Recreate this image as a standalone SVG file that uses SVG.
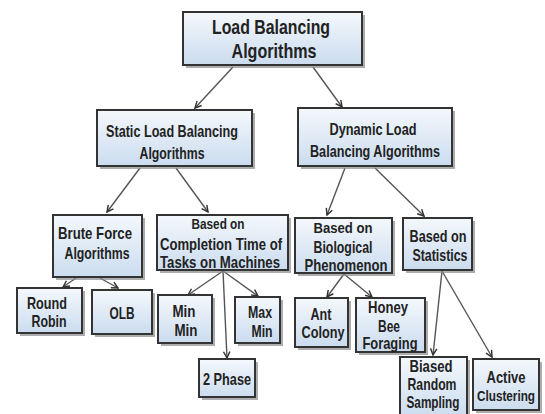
<svg xmlns="http://www.w3.org/2000/svg" width="545" height="414" viewBox="0 0 545 414">
<style>
.bx{fill:url(#g);stroke:#333;stroke-width:2}
.sh{fill:#8a8a8a;opacity:0.7}
text{font-family:"Liberation Sans Narrow","Liberation Sans",Arial,sans-serif;font-weight:bold;fill:#222;text-anchor:middle}
.t1{font-size:21px}
.t2{font-size:16.5px}
.t3{font-size:15px}
.c line{stroke:#555;stroke-width:1.4;marker-end:url(#ah)}
</style>
<defs>
<linearGradient id="g" x1="0" y1="0" x2="0" y2="1">
<stop offset="0" stop-color="#f4f8fc"/>
<stop offset="1" stop-color="#cbdcef"/>
</linearGradient>
<marker id="ah" viewBox="0 0 10 10" refX="9" refY="5" markerWidth="8" markerHeight="8" orient="auto" markerUnits="userSpaceOnUse">
<polyline points="1,1 9,5 1,9" fill="none" stroke="#333" stroke-width="1.8"/>
</marker>
</defs>
<rect width="545" height="414" fill="#fff"/>
<g class="c">
<line x1="233" y1="67" x2="195" y2="108"/>
<line x1="313" y1="67" x2="342" y2="107"/>
<line x1="140" y1="168" x2="107" y2="212"/>
<line x1="176" y1="168" x2="208" y2="212"/>
<line x1="345" y1="168" x2="327" y2="215"/>
<line x1="375" y1="168" x2="424" y2="216"/>
<line x1="76" y1="278" x2="63" y2="287"/>
<line x1="100" y1="278" x2="118" y2="288"/>
<line x1="223" y1="271" x2="188" y2="295"/>
<line x1="223" y1="271" x2="227" y2="358"/>
<line x1="223" y1="271" x2="258" y2="296"/>
<line x1="344" y1="274" x2="327" y2="297"/>
<line x1="344" y1="274" x2="372" y2="297"/>
<line x1="442" y1="271" x2="433" y2="355"/>
<line x1="442" y1="271" x2="492" y2="357"/>
</g>
<g id="n-top"><rect class="sh" x="186" y="15" width="179" height="53"/><rect class="bx" x="183" y="12" width="179" height="53"/><text class="t1" x="271" y="34" textLength="118" lengthAdjust="spacingAndGlyphs">Load Balancing</text><text class="t1" x="274" y="58" textLength="85" lengthAdjust="spacingAndGlyphs">Algorithms</text></g>
<g id="n-static"><rect class="sh" x="100" y="113" width="155" height="56"/><rect class="bx" x="97" y="110" width="155" height="56"/><text class="t2" x="172" y="137" textLength="132" lengthAdjust="spacingAndGlyphs">Static Load Balancing</text><text class="t2" x="172" y="159" textLength="65" lengthAdjust="spacingAndGlyphs">Algorithms</text></g>
<g id="n-dynamic"><rect class="sh" x="301" y="111" width="154" height="58"/><rect class="bx" x="298" y="108" width="154" height="58"/><text class="t2" x="373" y="135" textLength="87" lengthAdjust="spacingAndGlyphs">Dynamic Load</text><text class="t2" x="375" y="157" textLength="130" lengthAdjust="spacingAndGlyphs">Balancing Algorithms</text></g>
<g id="n-brute"><rect class="sh" x="56" y="218" width="89" height="62"/><rect class="bx" x="53" y="215" width="89" height="62"/><text class="t2" x="95" y="239" textLength="74" lengthAdjust="spacingAndGlyphs">Brute Force</text><text class="t2" x="97" y="259" textLength="65" lengthAdjust="spacingAndGlyphs">Algorithms</text></g>
<g id="n-completion"><rect class="sh" x="160" y="218" width="131" height="55"/><rect class="bx" x="157" y="215" width="131" height="55"/><text class="t3" x="218" y="229" textLength="53" lengthAdjust="spacingAndGlyphs">Based on</text><text class="t2" x="221" y="250" textLength="122" lengthAdjust="spacingAndGlyphs">Completion Time of</text><text class="t2" x="220" y="268" textLength="120" lengthAdjust="spacingAndGlyphs">Tasks on Machines</text></g>
<g id="n-bio"><rect class="sh" x="298" y="221" width="97" height="55"/><rect class="bx" x="295" y="218" width="97" height="55"/><text class="t3" x="343" y="233" textLength="59" lengthAdjust="spacingAndGlyphs">Based on</text><text class="t2" x="343" y="253" textLength="59" lengthAdjust="spacingAndGlyphs">Biological</text><text class="t2" x="346" y="271" textLength="83" lengthAdjust="spacingAndGlyphs">Phenomenon</text></g>
<g id="n-stats"><rect class="sh" x="406" y="221" width="69" height="52"/><rect class="bx" x="403" y="218" width="69" height="52"/><text class="t2" x="438" y="242" textLength="57" lengthAdjust="spacingAndGlyphs">Based on</text><text class="t2" x="440" y="261" textLength="55" lengthAdjust="spacingAndGlyphs">Statistics</text></g>
<g id="n-round"><rect class="sh" x="20" y="291" width="65" height="45"/><rect class="bx" x="17" y="288" width="65" height="45"/><text class="t2" x="47" y="309" textLength="40" lengthAdjust="spacingAndGlyphs">Round</text><text class="t2" x="49" y="327" textLength="35" lengthAdjust="spacingAndGlyphs">Robin</text></g>
<g id="n-olb"><rect class="sh" x="95" y="293" width="60" height="44"/><rect class="bx" x="92" y="290" width="60" height="44"/><text class="t2" x="122" y="319" textLength="25" lengthAdjust="spacingAndGlyphs">OLB</text></g>
<g id="n-minmin"><rect class="sh" x="161" y="298" width="54" height="48"/><rect class="bx" x="158" y="295" width="54" height="48"/><text class="t2" x="184" y="317" textLength="23" lengthAdjust="spacingAndGlyphs">Min</text><text class="t2" x="186" y="336" textLength="23" lengthAdjust="spacingAndGlyphs">Min</text></g>
<g id="n-maxmin"><rect class="sh" x="238" y="300" width="45" height="46"/><rect class="bx" x="235" y="297" width="45" height="46"/><text class="t2" x="260" y="318" textLength="24" lengthAdjust="spacingAndGlyphs">Max</text><text class="t2" x="262" y="337" textLength="21" lengthAdjust="spacingAndGlyphs">Min</text></g>
<g id="n-2phase"><rect class="sh" x="202" y="362" width="56" height="38"/><rect class="bx" x="199" y="359" width="56" height="38"/><text class="t2" x="227" y="385" textLength="48" lengthAdjust="spacingAndGlyphs">2 Phase</text></g>
<g id="n-ant"><rect class="sh" x="298" y="301" width="53" height="49"/><rect class="bx" x="295" y="298" width="53" height="49"/><text class="t2" x="321" y="320" textLength="21" lengthAdjust="spacingAndGlyphs">Ant</text><text class="t2" x="323" y="338" textLength="43" lengthAdjust="spacingAndGlyphs">Colony</text></g>
<g id="n-honey"><rect class="sh" x="359" y="301" width="69" height="54"/><rect class="bx" x="356" y="298" width="69" height="54"/><text class="t2" x="388" y="313" textLength="40" lengthAdjust="spacingAndGlyphs">Honey</text><text class="t2" x="389" y="332" textLength="22" lengthAdjust="spacingAndGlyphs">Bee</text><text class="t2" x="390" y="349" textLength="55" lengthAdjust="spacingAndGlyphs">Foraging</text></g>
<g id="n-biased"><rect class="sh" x="403" y="360" width="67" height="60"/><rect class="bx" x="400" y="357" width="67" height="60"/><text class="t2" x="431" y="372" textLength="43" lengthAdjust="spacingAndGlyphs">Biased</text><text class="t2" x="432" y="390" textLength="49" lengthAdjust="spacingAndGlyphs">Random</text><text class="t2" x="433" y="408" textLength="53" lengthAdjust="spacingAndGlyphs">Sampling</text></g>
<g id="n-active"><rect class="sh" x="476" y="362" width="66" height="51"/><rect class="bx" x="473" y="359" width="66" height="51"/><text class="t2" x="506" y="383" textLength="39" lengthAdjust="spacingAndGlyphs">Active</text><text x="506" y="401" font-size="15" textLength="58" lengthAdjust="spacingAndGlyphs">Clustering</text></g>
</svg>
